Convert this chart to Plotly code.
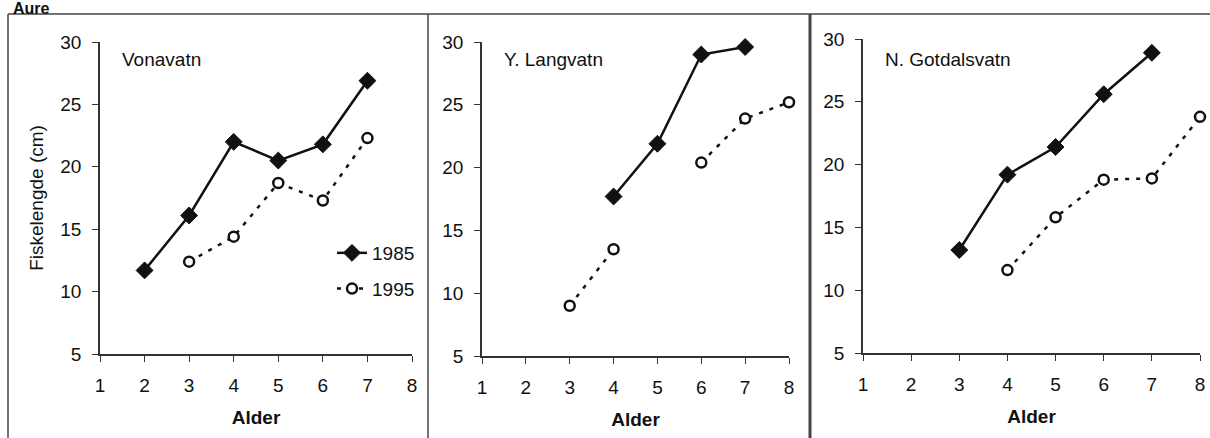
import plotly.graph_objects as go

# ---- data ----
ages = [1, 2, 3, 4, 5, 6, 7, 8]
lakes = ["Vonavatn", "Y. Langvatn", "N. Gotdalsvatn"]
years = ["1985", "1995"]

vonavatn_1985 = [None, 11.7, 16.1, 22.0, 20.5, 21.8, 26.9, None]
vonavatn_1995 = [None, None, 12.4, 14.4, 18.7, 17.3, 22.3, None]
langvatn_1985 = [None, None, None, 17.7, 21.9, 29.0, 29.6, None]
langvatn_1995 = [None, None, 9.0, 13.5, None, 20.4, 23.9, 25.2]
gotdal_1985 = [None, None, 13.2, 19.2, 21.4, 25.6, 28.9, None]
gotdal_1995 = [None, None, None, 11.6, 15.8, 18.8, 18.9, 23.8]

series = [
    (vonavatn_1985, vonavatn_1995),
    (langvatn_1985, langvatn_1995),
    (gotdal_1985, gotdal_1995),
]

x_ticks = [1, 2, 3, 4, 5, 6, 7, 8]
y_ticks = [5, 10, 15, 20, 25, 30]

title_text = "Aure"
y_title = "Fiskelengde (cm)"
x_title = "Alder"

# ---- layout geometry (pixels) ----
W, H = 1210, 438
FONT = "Liberation Sans, Arial, sans-serif"
FS = 19
INK = "#111111"
AX = "#333333"

panels_px = [
    (100, 412, 42, 354),
    (482, 789, 42, 356),
    (863, 1200, 39, 353),
]


def fx(px):
    return px / W


def fy(py):
    return 1 - py / H


fig = go.Figure()

for i, (s85, s95) in enumerate(series):
    k = i + 1
    xa = "x" if k == 1 else f"x{k}"
    ya = "y" if k == 1 else f"y{k}"
    fig.add_trace(go.Scatter(
        x=ages, y=s85, xaxis=xa, yaxis=ya, name=years[0],
        mode="lines+markers", connectgaps=False, cliponaxis=False,
        line=dict(color=INK, width=2.5),
        marker=dict(symbol="diamond", size=13, color=INK,
                    line=dict(color=INK, width=1)),
        showlegend=(k == 1), legendgroup="a",
    ))
    fig.add_trace(go.Scatter(
        x=ages, y=s95, xaxis=xa, yaxis=ya, name=years[1],
        mode="lines+markers", connectgaps=False, cliponaxis=False,
        line=dict(color=INK, width=2.5, dash="4px,7px"),
        marker=dict(symbol="circle", size=10, color="white",
                    line=dict(color=INK, width=2.5)),
        showlegend=(k == 1), legendgroup="b",
    ))

layout = dict(
    width=W, height=H,
    margin=dict(l=0, r=0, t=0, b=0),
    paper_bgcolor="white", plot_bgcolor="rgba(0,0,0,0)",
    font=dict(family=FONT, size=FS, color=INK),
    showlegend=True,
    legend=dict(x=fx(332), y=fy(234), xanchor="left", yanchor="top",
                bgcolor="rgba(0,0,0,0)", font=dict(size=FS, family=FONT),
                tracegroupgap=8, itemwidth=30),
)

annotations = []
shapes = []

for i, (x0, x1, y0, y1) in enumerate(panels_px):
    k = i + 1
    xn = "xaxis" if k == 1 else f"xaxis{k}"
    yn = "yaxis" if k == 1 else f"yaxis{k}"
    xa = "x" if k == 1 else f"x{k}"
    ya = "y" if k == 1 else f"y{k}"
    layout[xn] = dict(
        domain=[fx(x0), fx(x1)], range=[1, 8], anchor=ya,
        tickvals=x_ticks, ticks="outside", ticklen=6, tickwidth=1,
        tickcolor=AX, showline=True, linecolor=AX, linewidth=1.5,
        showgrid=False, zeroline=False, ticklabelstandoff=7,
        tickfont=dict(size=FS, family=FONT),
        title=dict(text=f"<b>{x_title}</b>", standoff=16,
                   font=dict(size=FS, family=FONT)),
        automargin=False, fixedrange=True,
    )
    layout[yn] = dict(
        domain=[fy(y1), fy(y0)], range=[5, 30], anchor=xa,
        tickvals=y_ticks, ticks="outside", ticklen=6, tickwidth=1,
        tickcolor=AX, showline=True, linecolor=AX, linewidth=1.5,
        showgrid=False, zeroline=False, ticklabelstandoff=7,
        tickfont=dict(size=FS, family=FONT),
        automargin=False, fixedrange=True,
    )
    if k == 1:
        layout[yn]["title"] = dict(text=y_title, standoff=12,
                                   font=dict(size=FS, family=FONT))
    # overlay axes giving inner half of crossing ticks
    ko = k + 3
    layout[f"xaxis{ko}"] = dict(
        domain=[fx(x0), fx(x1)], range=[1, 8], anchor=f"y{ko}",
        overlaying=xa, tickvals=x_ticks, ticks="inside", ticklen=6,
        tickwidth=1, tickcolor=AX, showticklabels=False, showline=False,
        showgrid=False, zeroline=False, fixedrange=True,
    )
    layout[f"yaxis{ko}"] = dict(
        domain=[fy(y1), fy(y0)], range=[5, 30], anchor=f"x{ko}",
        overlaying=ya, tickvals=y_ticks, ticks="inside", ticklen=6,
        tickwidth=1, tickcolor=AX, showticklabels=False, showline=False,
        showgrid=False, zeroline=False, fixedrange=True,
    )
    annotations.append(dict(
        text=lakes[i], xref="paper", yref="paper",
        x=fx(x0 + 20), y=fy(59), xanchor="left", yanchor="middle",
        showarrow=False, font=dict(size=FS, family=FONT, color=INK),
    ))

annotations.append(dict(
    text=f"<b>{title_text}</b>", xref="paper", yref="paper",
    x=fx(11), y=fy(-2), xanchor="left", yanchor="top",
    showarrow=False, font=dict(size=16, family=FONT, color=INK),
))

# panel frames
FR = "#444444"
shapes.append(dict(type="line", xref="paper", yref="paper",
                   x0=fx(8), x1=1, y0=fy(14), y1=fy(14),
                   line=dict(color=FR, width=1.5)))
shapes.append(dict(type="line", xref="paper", yref="paper",
                   x0=fx(8), x1=fx(8), y0=fy(14), y1=0,
                   line=dict(color=FR, width=1.5)))
shapes.append(dict(type="line", xref="paper", yref="paper",
                   x0=fx(428), x1=fx(428), y0=fy(14), y1=0,
                   line=dict(color=FR, width=1.5)))
shapes.append(dict(type="line", xref="paper", yref="paper",
                   x0=fx(810), x1=fx(810), y0=fy(14), y1=0,
                   line=dict(color=FR, width=3)))

layout["annotations"] = annotations
layout["shapes"] = shapes
fig.update_layout(**layout)

fig.write_html(
    "out.html",
    config={"displayModeBar": False},
    post_script="document.body.style.margin='0';document.body.style.overflow='hidden';",
)
